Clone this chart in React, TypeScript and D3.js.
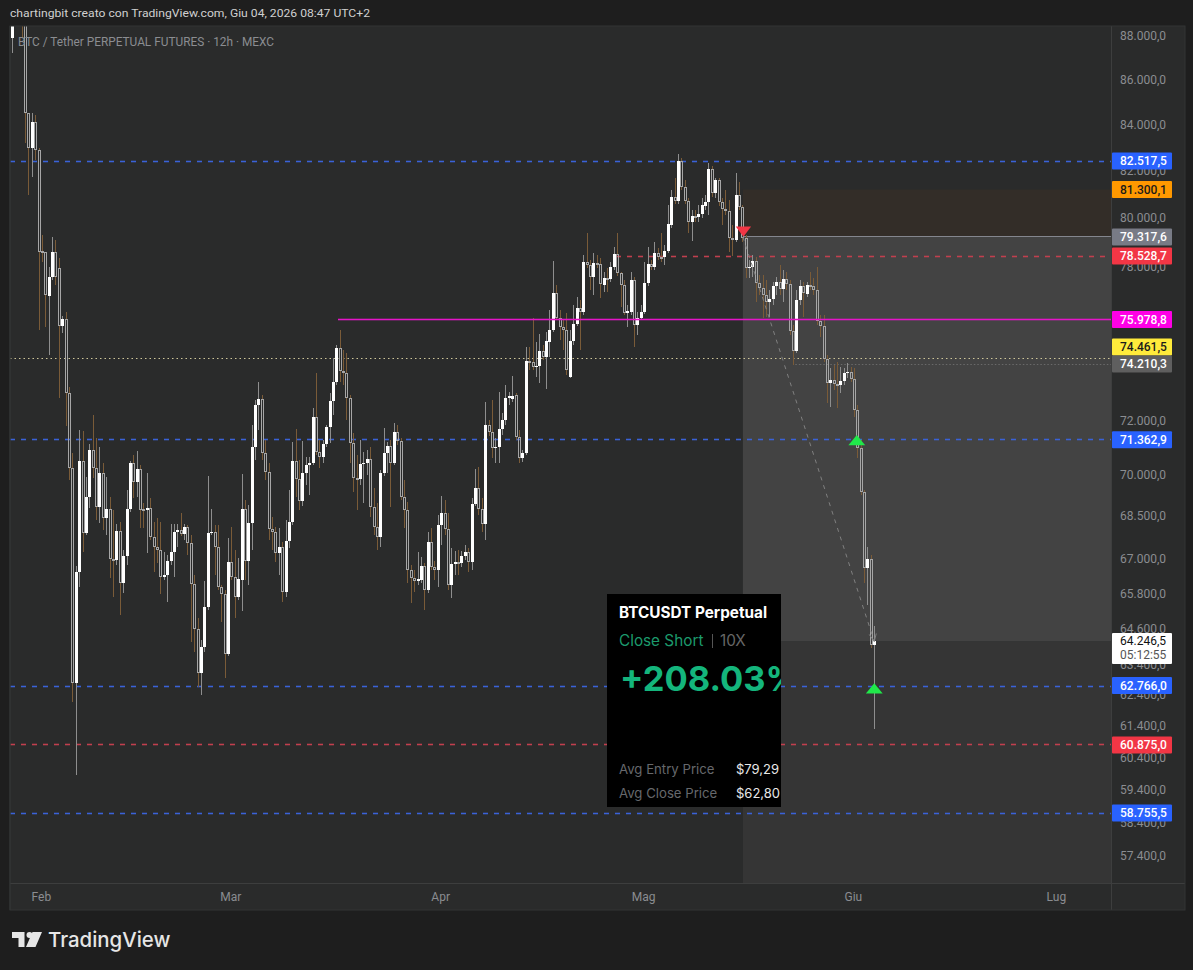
import React from "react";
import * as d3 from "d3";

const opens = [
  87980,89270,89100,88900,88620,84610,83080,84210,82990,78740,
  78700,76920,77690,78700,78050,75730,76000,73130,70330,62880,
  66620,70580,67990,69270,70990,70330,68910,70150,68520,68840,
  67070,67040,68060,66240,67170,68840,70510,69820,70290,68840,
  68800,68880,67850,67490,67380,66450,66520,67000,67310,68020,
  68100,67950,68200,67630,66200,64670,63210,64070,65410,67990,
  68020,67490,66100,65860,63830,66970,66450,65750,66340,68840,
  67000,68340,71100,72670,72900,70880,70180,68130,68020,67280,
  67490,65930,67700,68380,70580,69930,69120,70150,70440,70510,
  72220,70910,70730,71210,71850,72820,73550,74860,73970,73900,
  72940,71250,69960,69930,70470,70510,70660,68910,68200,67850,
  70150,70880,71140,70510,71660,71320,69270,68800,66690,66410,
  66310,66340,66830,66000,67670,66790,66690,68270,68700,68130,
  66170,66900,66970,66930,67170,67310,66970,69020,69600,68840,
  68310,71920,71660,71060,71100,71770,72110,72940,72900,73050,
  71470,70690,70880,74360,74320,74130,74170,74740,74510,75100,
  75570,77040,76040,75690,75570,73740,75140,75810,76440,76280,
  78290,78170,77690,78250,78210,77360,77650,77610,78090,78620,
  77850,77360,76240,76280,77570,75770,76040,76280,77450,78210,
  78090,78660,78500,78500,78740,79820,80990,80820,82520,81410,
  80820,79940,80190,80150,80270,80610,80770,82170,81150,81700,
  80770,80480,80400,79270,79190,81070,80570,79270,78050,78090,
  78330,77450,77240,76960,76680,76800,77320,77490,77200,77610,
  77400,75530,74740,76760,77320,77000,77360,77320,77160,75930,
  75730,74430,73510,73630,73480,73440,73590,73900,73940,73670,
  72480,71060,69450,66760,67070,64130,
];
const closes = [
  89270,89100,88900,88620,84610,83080,84210,82990,78700,78700,
  76960,77690,78700,77690,75730,76000,73130,70330,62880,66620,
  70580,67990,69270,70990,70330,68910,70150,68520,68840,67070,
  67040,68060,66240,67170,68840,70510,69820,70290,68800,68800,
  68880,67850,67490,67380,66450,66520,67000,67310,68020,68100,
  67950,68200,67630,66200,64670,63210,64070,65410,67990,68020,
  67490,66100,65860,63830,66970,66450,65750,66380,68840,67000,
  68340,71100,72670,72900,70880,70180,68130,68020,67280,67490,
  65930,67700,68380,70580,69930,69120,70150,70440,70510,72220,
  70910,70730,71210,71850,72820,73550,74860,73970,73900,72940,
  71250,69960,69890,70470,70510,70660,68910,68200,67850,70150,
  70880,71140,70510,71660,71320,69270,68800,66690,66410,66310,
  66380,66830,66000,67670,66790,66690,68270,68700,68130,66170,
  66900,66970,66930,67170,67310,66970,69020,69600,68840,68310,
  71920,71660,71060,71100,71770,72110,72940,73020,73020,71470,
  70690,70880,74360,74320,74130,74170,74740,74510,75140,75570,
  77040,76040,75690,75570,74010,75140,75810,76440,76280,78290,
  78170,77690,78250,78210,77400,77650,77610,78090,78620,77850,
  77360,76240,76320,77570,75770,76040,76280,77450,78210,78090,
  78660,78500,78460,78740,79860,80990,80820,82520,81410,80820,
  79940,80190,80150,80270,80650,80770,82170,81150,81700,80770,
  80480,80400,79270,79230,81070,80570,79270,78050,78090,78330,
  77450,77240,76960,76680,76800,77320,77490,77200,77610,77400,
  75530,74740,76760,77320,77040,77360,77280,77160,75930,75730,
  74430,73510,73630,73480,73440,73590,73900,73940,73670,72480,
  71060,69450,66760,67070,64130,64246.5,
];
const highs = [
  89400,89500,89300,89200,88900,84610,84610,84520,83080,79400,
  78700,78090,79320,79190,78460,76120,76280,73360,70880,66830,
  71740,71700,70000,71210,72300,71440,71100,70510,70000,69270,
  68800,68310,68380,67380,69530,70580,70800,70950,70440,69050,
  70150,69230,68380,68520,68380,67310,67210,68310,68310,68310,
  68700,68310,68270,67920,66520,65040,64300,66310,70040,68840,
  68270,68270,66170,66000,67810,68200,67380,67110,70110,69160,
  68980,71920,72860,73550,73050,71360,70510,68560,68200,68170,
  67670,68450,69530,71280,71770,70620,71320,70730,70730,72560,
  73900,71360,71360,71920,73130,74470,74980,75570,74780,74670,
  73050,71620,70800,71360,70910,70990,71100,69600,69050,70260,
  71810,71290,71360,72000,71920,71440,69890,69090,66860,66690,
  67310,67140,66930,68020,68170,67000,68630,69300,69160,68700,
  67450,67350,67380,67350,67560,67450,69230,70290,70360,69230,
  72780,72110,72860,71440,73170,72370,73440,73170,73780,73130,
  71740,70990,74900,74900,76040,75100,75410,74980,75490,76360,
  78330,77360,76360,75970,76240,75570,76560,76870,76760,78580,
  79480,78380,78660,78580,78460,77890,78050,78290,78900,79480,
  77890,77570,76560,77890,77690,76280,76560,78290,78900,78380,
  79110,78860,79480,78980,80650,81280,81790,82820,82650,81700,
  80940,80440,80440,80650,80940,81070,82430,82300,81790,81790,
  80940,81280,80860,79820,82000,81620,80650,79400,78380,78580,
  78500,77770,77770,77570,77160,77490,77690,78170,77970,77890,
  77570,75770,77160,77570,77490,77490,77890,77650,78090,76160,
  76160,74590,74090,74200,74320,74130,74090,74280,74130,74090,
  72670,71360,69530,67490,67210,64770,
];
const lows = [
  87290,88900,88700,87980,83300,81070,81830,82560,75570,78290,
  75690,74590,77570,77360,72940,75450,71890,69890,62260,59930,
  66100,67310,67920,68880,69960,68450,68340,68100,67920,66410,
  65750,66860,65140,65900,66860,68730,69230,69270,68170,68170,
  67280,67740,66620,66930,65860,66340,65580,66860,66450,67490,
  67880,67740,67210,64230,63900,62750,62480,63900,65310,67920,
  66520,66000,64910,63040,63770,66340,65040,65650,65280,66340,
  66170,67380,70620,71740,70620,69890,67740,67380,66970,66520,
  65580,65750,67450,68270,69270,68800,68950,69710,69340,70440,
  70800,70330,70510,71100,71250,72300,73440,73550,73440,72110,
  70510,69450,68800,69710,69050,70070,68560,67920,67380,67490,
  70040,70150,68910,70440,71180,69160,68170,66240,65550,65930,
  66170,66240,65310,65900,66690,66340,66100,67560,67920,66000,
  65720,66520,66520,66790,67040,66620,66690,68950,68630,68020,
  67740,71510,70690,70510,70510,71550,71920,72670,72780,71360,
  70510,70550,70800,74010,74010,73740,73510,74400,73280,74510,
  75490,75970,75180,74780,73820,73710,74980,75730,74780,76160,
  78050,77160,76960,78050,76840,77080,77080,77490,77970,77730,
  76480,76160,75690,76160,74900,75370,75970,76200,77320,77970,
  77970,78380,78290,78170,78660,79690,80690,80690,81280,80690,
  79480,79150,79940,79940,80110,80440,80230,80990,80940,80610,
  79820,80230,78700,78540,79110,80440,79110,77650,77650,77690,
  76680,76960,76040,76080,76080,76560,76960,76960,76680,77160,
  75370,74200,74670,76560,76080,76870,77160,76960,75770,75290,
  74320,72750,72600,73250,72560,73130,73440,73710,73550,72220,
  70690,69340,66240,65480,64030,61390,
];

const priceTicks = [88000,86000,84000,82000,80000,78000,72000,70000,68500,67000,65800,64600,63400,62400,61400,60400,59400,58400,57400];
const monthLabels = ["Feb","Mar","Apr","Mag","Giu","Lug"];
const monthDates = ["2026-02-01","2026-03-01","2026-04-01","2026-05-01","2026-06-01","2026-07-01"];
const bluePrices = [82517.5,71362.9,62766,58755.5];
const stopPrice = 81300.1, entryPrice = 79317.6, targetPrice = 64246.5;
const redFull = 60875, redPartial = 78528.7, magentaPrice = 75978.8, yellowPrice = 74461.5, grayPrice = 74210.3;
const badgeValues = [82517.5,81300.1,79317.6,78528.7,75978.8,74461.5,74210.3,71362.9,62766,60875,58755.5];
const badgeShown = [82517.5,81300.1,79317.6,78528.7,75978.8,74900,74240,71362.9,62790,60875,58755.5];
const badgeFills = ["#2962ff","#ff9800","#787b86","#f23645","#ff00e6","#ffeb3b","#5f5f5f","#2962ff","#2962ff","#f23645","#2962ff"];
const badgeInks = ["#fff","#1a1a1a","#fff","#fff","#fff","#1a1a1a","#fff","#fff","#fff","#fff","#fff"];

const lastBarTime = Date.UTC(2026, 5, 4, 2);
const halfDay = 12 * 3600 * 1000;
const entryTime = Date.UTC(2026, 4, 15, 16);
const redStart = Date.UTC(2026, 3, 26, 22);
const magentaStart = Date.UTC(2026, 2, 16, 20);
const grayStart = Date.UTC(2026, 4, 23, 10);
const sellTime = Date.UTC(2026, 4, 15, 18);
const coverTimes = [Date.UTC(2026, 5, 1, 12), Date.UTC(2026, 5, 4, 2)];
const coverPrices = [71290, 62640];

const fmt = d3.formatLocale({ decimal: ",", thousands: ".", grouping: [3], currency: ["", ""] }).format(",.1f");
const font = "Roboto, 'Liberation Sans', sans-serif";
const PL = 10, PR = 1111, PT = 26, PB = 883;

export default function App() {
  const y = d3.scaleLog().domain([82517.5, 58755.5]).range([161, 813]);
  const x = d3.scaleUtc().domain([Date.UTC(2026, 1, 1), Date.UTC(2026, 6, 1)]).range([41.4, 1056.4]);
  const bars = closes.map((c, i) => ({
    t: lastBarTime - (closes.length - 1 - i) * halfDay,
    o: opens[i], c, h: highs[i], l: lows[i],
  }));
  const left = x(entryTime);
  const diag = d3.line<[number, number]>().x(d => x(d[0])).y(d => y(d[1]))([[entryTime, entryPrice], [lastBarTime, targetPrice]]) || "";
  const hline = (p: number, from = PL, to = PR) => {
    const py = Math.floor(y(p)) + 0.5;
    return { x1: from, x2: to, y1: py, y2: py };
  };
  const glowLine = (p: number, color: string, dash: string | undefined, from = PL) => (
    <g key={`${p}`}>
      <line {...hline(p, from)} stroke={color} strokeWidth={3} strokeOpacity={0.28} strokeDasharray={dash} />
      <line {...hline(p, from)} stroke={color} strokeDasharray={dash} />
    </g>
  );
  return (
    <svg width={1193} height={970} style={{ position: "absolute", left: 0, top: 0, display: "block" }} fontFamily={font}>
      <defs>
        <clipPath id="pane"><rect x={PL} y={PT} width={PR - PL} height={PB - PT} /></clipPath>
        <clipPath id="card"><rect x={607} y={594} width={174} height={213} /></clipPath>
      </defs>
      <rect width={1193} height={970} fill="#1e1e1e" />
      <text x={10} y={17} fill="#d0d0d0" fontSize={11.5} textLength={360} lengthAdjust="spacingAndGlyphs">chartingbit creato con TradingView.com, Giu 04, 2026 08:47 UTC+2</text>

      <rect x={PL} y={PT} width={1175} height={884} fill="#2a2b2b" />
      <g clipPath="url(#pane)">
        <rect x={left} y={y(stopPrice)} width={PR - left} height={y(entryPrice) - y(stopPrice)} fill="#332d28" />
        <rect x={left} y={y(entryPrice)} width={PR - left} height={y(targetPrice) - y(entryPrice)} fill="#434343" />
        <rect x={left} y={y(targetPrice)} width={PR - left} height={PB - y(targetPrice)} fill="#353535" />
        <line {...hline(entryPrice, left)} stroke="#84868e" strokeWidth={1} />
        {bluePrices.map(p => glowLine(p, "#3a62d8", "5 6"))}
        {glowLine(redFull, "#c23f4e", "5 6")}
        {glowLine(redPartial, "#c23f4e", "5 6", x(redStart))}
        <line {...hline(yellowPrice)} stroke="#cfc79a" strokeDasharray="1.5 3" />
        <line {...hline(grayPrice, x(grayStart))} stroke="#6a6a6a" strokeDasharray="1.5 2" />
        <g shapeRendering="crispEdges">
          {bars.map((b, i) => {
            const cx = Math.round(x(b.t));
            const up = b.c >= b.o;
            const top = y(Math.max(b.o, b.c)), bot = y(Math.min(b.o, b.c));
            const h = Math.max(bot - top, 1);
            return (
              <g key={i}>
                <line x1={cx + 0.5} x2={cx + 0.5} y1={y(b.h)} y2={top} stroke={up ? "#8e8e8e" : "#7a5b38"} />
                <line x1={cx + 0.5} x2={cx + 0.5} y1={bot} y2={y(b.l)} stroke={up ? "#8e8e8e" : "#7a5b38"} />
                {up
                  ? <rect x={cx - 1} y={top} width={3} height={h} fill="#ffffff" />
                  : <rect x={cx - 0.5} y={top + 0.5} width={2} height={Math.max(h - 1, 1)} fill="none" stroke="#a6a6a6" />}
              </g>
            );
          })}
        </g>
        {glowLine(magentaPrice, "#e514c8", undefined, x(magentaStart))}
        <path d={diag} fill="none" stroke="#808080" strokeDasharray="4 5" />
        <path d={`M${x(lastBarTime) - 5},${y(targetPrice) - 7}L${x(lastBarTime)},${y(targetPrice)}L${x(lastBarTime) + 2},${y(targetPrice) - 8}`} fill="none" stroke="#808080" />
        <path d={d3.symbol().type(d3.symbolTriangle).size(85)() || ""} transform={`translate(${x(sellTime)},${y(entryPrice) - 7}) rotate(180) scale(1.1,0.85)`} fill="#f23645" />
        {coverTimes.map((t, i) => (
          <path key={t} d={d3.symbol().type(d3.symbolTriangle).size(85)() || ""} transform={`translate(${x(t)},${y(coverPrices[i])}) scale(1.2,0.85)`} fill="#20e84a" />
        ))}
      </g>
      <text x={18} y={46} fill="#8b8d91" fontSize={12} textLength={256} lengthAdjust="spacingAndGlyphs">BTC / Tether PERPETUAL FUTURES · 12h · MEXC</text>

      {/* frames */}
      <line x1={PL} x2={PL} y1={PT} y2={910} stroke="#353636" />
      <line x1={PR + 0.5} x2={PR + 0.5} y1={PT} y2={910} stroke="#3d3e3e" />
      <line x1={PL} x2={1185} y1={PB + 0.5} y2={PB + 0.5} stroke="#3d3e3e" />
      <rect x={PL} y={PT} width={1175} height={884} fill="none" stroke="#333434" />

      {/* price axis */}
      {priceTicks.map(p => (
        <text key={p} x={1120} y={y(p) + 2} fill="#8b8d91" fontSize={12}>{fmt(p)}</text>
      ))}
      {badgeValues.map((v, i) => {
        const cy = y(badgeShown[i]);
        return (
          <g key={v}>
            <rect x={1112} y={cy - 8.5} width={60} height={17} rx={1} fill={badgeFills[i]} />
            <text x={1120} y={cy + 4.3} fill={badgeInks[i]} fontSize={12} fontWeight={500}>{fmt(v)}</text>
          </g>
        );
      })}
      <rect x={1112} y={633} width={60} height={31} rx={1} fill="#ffffff" />
      <text x={1120} y={645} fill="#111" fontSize={12}>{fmt(targetPrice)}</text>
      <text x={1120} y={659} fill="#555" fontSize={12}>05:12:55</text>

      {/* time axis */}
      {monthLabels.map((m, i) => (
        <text key={m} x={x(Date.parse(monthDates[i] + "T00:00:00Z"))} y={901} textAnchor="middle" fill="#8b8d91" fontSize={12}>{m}</text>
      ))}

      {/* card */}
      <rect x={607} y={594} width={174} height={213} fill="#000" />
      <g clipPath="url(#card)" fontFamily="Inter, Roboto, sans-serif">
        <text x={619} y={618} fill="#fff" fontSize={15.3} fontWeight={700}>BTCUSDT Perpetual</text>
        <text x={619} y={646} fill="#1c9a6c" fontSize={15.3}>Close Short</text>
        <line x1={712.5} x2={712.5} y1={634} y2={648} stroke="#555" />
        <text x={720} y={646} fill="#666" fontSize={15.3}>10X</text>
        <text x={620} y={691} fill="#14b57c" fontSize={34.5} fontWeight={700}>+208.03%</text>
        <text x={619} y={774} fill="#66686c" fontSize={13.2}>Avg Entry Price</text>
        <text x={736} y={774} fill="#e8e8e8" fontSize={13}>$79,29</text>
        <text x={619} y={798} fill="#66686c" fontSize={13.2}>Avg Close Price</text>
        <text x={736} y={798} fill="#e8e8e8" fontSize={13}>$62,80</text>
      </g>

      {/* TradingView mark */}
      <path d="M12 932H24.5V947H18.5V938H12ZM26 947L32.5 932H42L35.5 947Z" fill="#e6e6e6" />
      <circle cx={29.5} cy={935} r={3} fill="#e6e6e6" />
      <text x={48} y={947} fill="#e6e6e6" fontSize={20.4} fontWeight={500} fontFamily="Inter, Roboto, sans-serif">TradingView</text>
    </svg>
  );
}
